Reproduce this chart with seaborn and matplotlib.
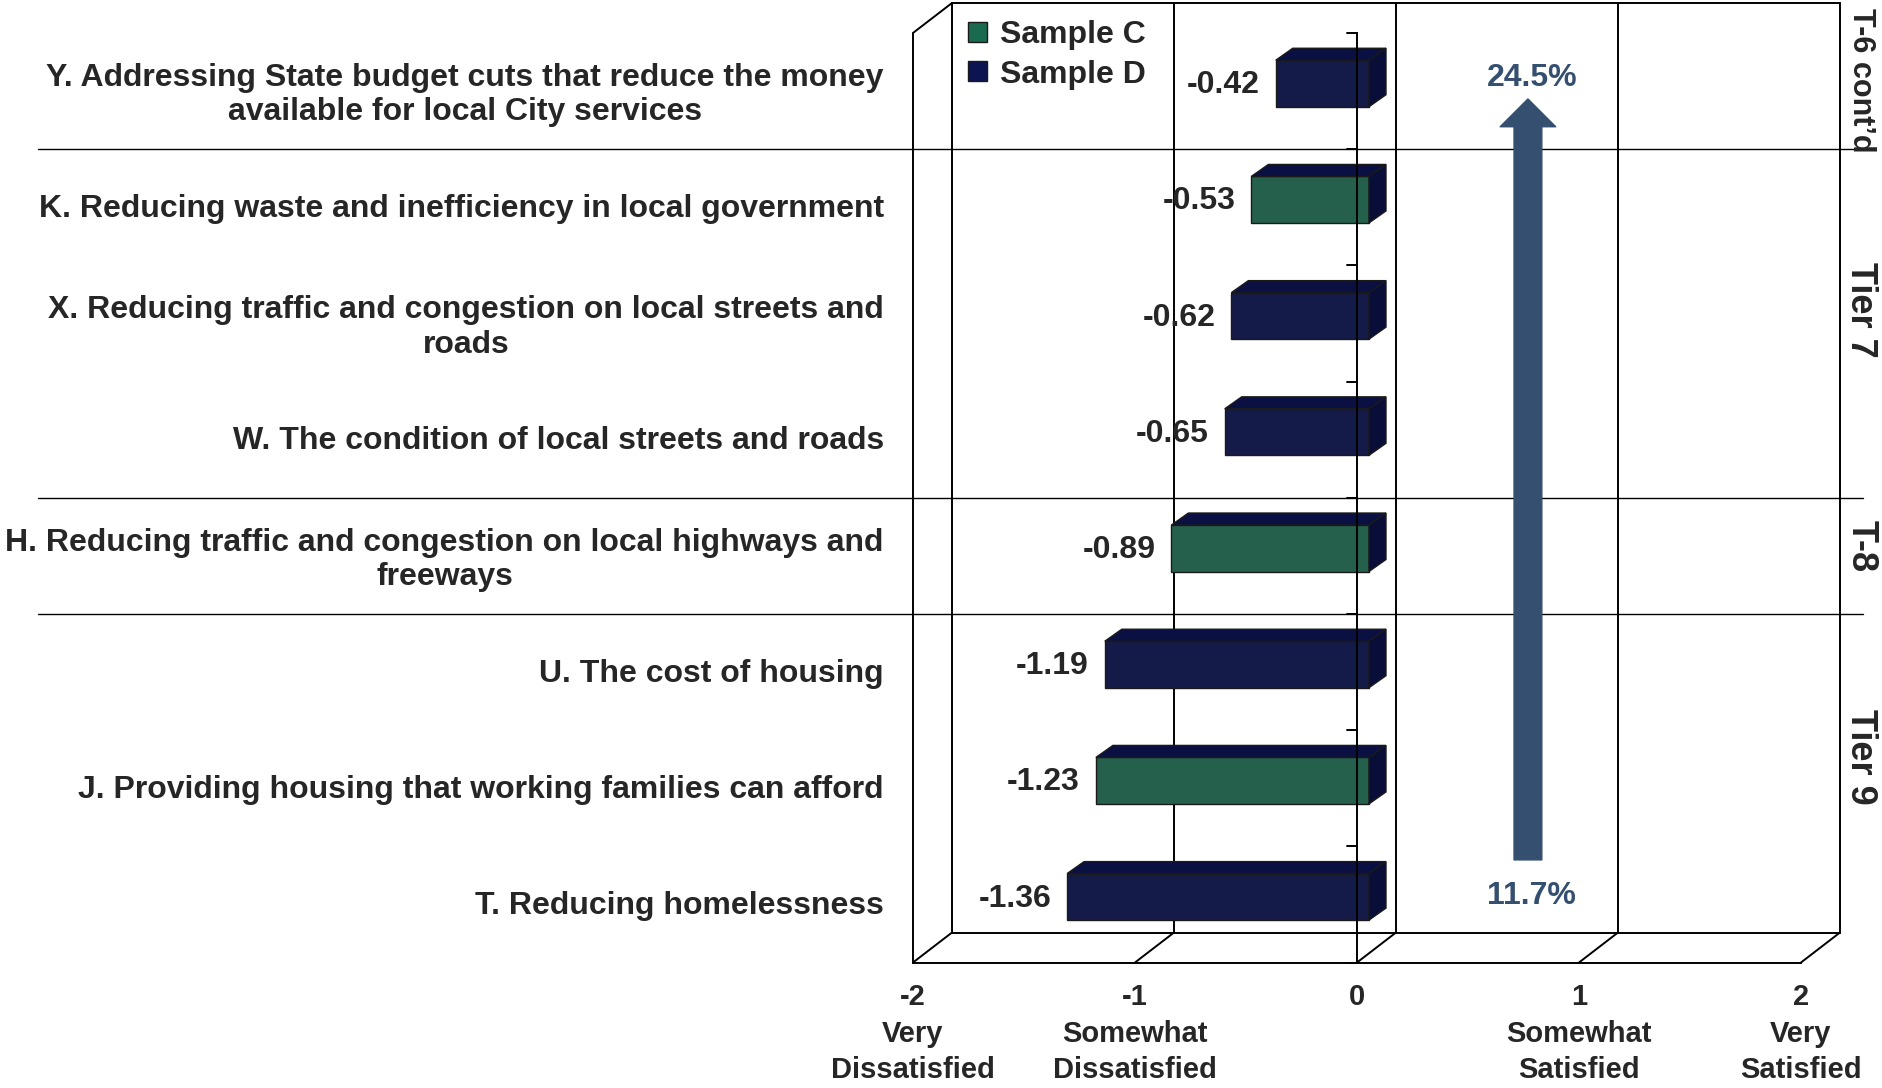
import numpy as np
import pandas as pd
import seaborn as sns
import matplotlib.pyplot as plt
from matplotlib.patches import Polygon, Patch

# Data
categories = [
    "Y. Addressing State budget cuts that reduce the money\navailable for local City services",
    "K. Reducing waste and inefficiency in local government",
    "X. Reducing traffic and congestion on local streets and\nroads",
    "W. The condition of local streets and roads",
    "H. Reducing traffic and congestion on local highways and\nfreeways",
    "U. The cost of housing",
    "J. Providing housing that working families can afford",
    "T. Reducing homelessness",
]
scores = [-0.42, -0.53, -0.62, -0.65, -0.89, -1.19, -1.23, -1.36]
samples = ["Sample D", "Sample C", "Sample D", "Sample D",
           "Sample C", "Sample D", "Sample C", "Sample D"]
tick_values = [-2, -1, 0, 1, 2]
tick_labels = ["-2\nVery\nDissatisfied", "-1\nSomewhat\nDissatisfied", "0",
               "1\nSomewhat\nSatisfied", "2\nVery\nSatisfied"]
tier_names = ["T-6 cont\u2019d", "Tier 7", "T-8", "Tier 9"]
tier_breaks = [1, 4, 5]  # separator lines after these many rows
pct_top = "24.5%"
pct_bottom = "11.7%"

sns.set_style("white")
plt.rcParams["font.family"] = ["Liberation Sans", "DejaVu Sans"]
plt.rcParams["font.weight"] = "bold"

green = "#1A6A4F"
navy = "#0C1452"
palette = {"Sample C": green, "Sample D": navy}
top_col = {green: "#134B38", navy: "#0A1042"}
side_col = {green: "#10432F", navy: "#080E38"}
pct_color = "#354F70"

fig = plt.figure(figsize=(18.83, 10.88), dpi=100)
ax = fig.add_axes([913 / 1883, 125.5 / 1088, 888 / 1883, 962.5 / 1088])

df = pd.DataFrame({"item": categories, "score": scores, "sample": samples})
sns.barplot(data=df, x="score", y="item", hue="sample",
            hue_order=["Sample C", "Sample D"], palette=palette,
            dodge=False, width=0.4, orient="h", errorbar=None,
            edgecolor="#1a1a1a", linewidth=1, legend=False, ax=ax, zorder=3)

# 3D look: front face shifted a bit, plus top and side faces
shift = 0.054
ddx, ddy = 17 / 222, 12 / 116.2
for p in list(ax.patches):
    p.set_x(p.get_x() + shift)
    bb = p.get_bbox()
    x0, x1, y0, y1 = bb.xmin, bb.xmax, bb.ymin, bb.ymax
    fc = green if np.allclose(p.get_facecolor()[:3], plt.matplotlib.colors.to_rgb(green)) else navy
    ax.add_patch(Polygon([(x0, y0), (x0 + ddx, y0 - ddy), (x1 + ddx, y0 - ddy), (x1, y0)],
                         closed=True, fc=top_col[fc], ec="#1a1a1a", lw=1, zorder=3, clip_on=False))
    ax.add_patch(Polygon([(x1, y0), (x1 + ddx, y0 - ddy), (x1 + ddx, y1 - ddy), (x1, y1)],
                         closed=True, fc=side_col[fc], ec="#1a1a1a", lw=1, zorder=3, clip_on=False))

ax.set_xlim(-2, 2)
front_top, front_bot = -0.435, 7.565
ax.set_ylim(front_bot, -0.7186)
ax.set_xlabel("")
ax.set_ylabel("")

# 3D frame
dx, dy = 39 / 222, 0.258
lk = dict(color="black", lw=1.4, clip_on=False, zorder=1)
ax.plot([-2, -2], [front_top, front_bot], **lk)
ax.plot([-2 + dx] * 2, [front_top - dy, front_bot - dy], **lk)
ax.plot([-2, -2 + dx], [front_top, front_top - dy], **lk)
ax.plot([-2 + dx, 2 + dx], [front_top - dy, front_top - dy], **lk)
ax.plot([-2 + dx, 2 + dx], [front_bot - dy, front_bot - dy], **lk)
for k in tick_values:
    ax.plot([k, k + dx], [front_bot, front_bot - dy], **lk)
    if k > -2:
        ax.plot([k + dx] * 2, [front_top - dy, front_bot - dy], **lk)

# value axis at zero
ax.plot([0, 0], [front_top, front_bot], color="black", lw=1.4, zorder=5, clip_on=False)
for j in range(9):
    ax.plot([-0.045, 0], [front_top + j] * 2, color="black", lw=1.4, zorder=5, clip_on=False)

# tier separators
for b in tier_breaks:
    ax.plot([-5.94, 2.28], [front_top + b] * 2, color="black", lw=1.0, zorder=1, clip_on=False)

# data labels
for i, v in enumerate(scores):
    ax.text(v - 0.018, i + 0.015, f"{v:.2f}", ha="right", va="center",
            fontsize=23, fontweight="bold", zorder=6)

# axes styling
for s in ["left", "top", "right"]:
    ax.spines[s].set_visible(False)
ax.spines["bottom"].set_color("black")
ax.spines["bottom"].set_linewidth(1.4)
ax.set_xticks(tick_values, tick_labels)
ax.tick_params(axis="x", length=5, width=1.4, color="black", pad=10, labelsize=21)
for t in ax.get_xticklabels():
    t.set_fontweight("bold")
    t.set_linespacing(1.38)
ax.set_yticks(np.arange(len(categories)) + 0.05, categories)
ax.tick_params(axis="y", length=0, pad=21, labelsize=23)
for t in ax.get_yticklabels():
    t.set_fontweight("bold")
    t.set_multialignment("center")
ax.grid(False)
ax.set_facecolor("none")

# tier labels
tier_y = [(80 - 83.5) / 116.2, (310 - 83.5) / 116.2, (546 - 83.5) / 116.2, (757 - 83.5) / 116.2]
tier_size = [22, 26, 26, 26]
for name, y, fs in zip(tier_names, tier_y, tier_size):
    ax.text(2.27, y, name, rotation=270, ha="center", va="center",
            fontsize=fs, fontweight="bold", clip_on=False)

# change arrow and percentages
ax.annotate("", xy=(0.770, 0.133), xytext=(0.770, 6.682),
            arrowprops=dict(arrowstyle="simple,head_length=2.0,head_width=4.0,tail_width=2.0",
                            color=pct_color, shrinkA=0, shrinkB=0, mutation_scale=10))
ax.text(0.788, -0.05, pct_top, color=pct_color, fontsize=23, fontweight="bold",
        ha="center", va="center")
ax.text(0.788, 6.996, pct_bottom, color=pct_color, fontsize=23, fontweight="bold",
        ha="center", va="center")

# legend
handles = [Patch(facecolor=green, edgecolor="#1a1a1a", lw=1),
           Patch(facecolor=navy, edgecolor="#1a1a1a", lw=1)]
fig.legend(handles, ["Sample C", "Sample D"], loc="upper left",
           bbox_to_anchor=(968 / 1883, 1 - 20 / 1088), frameon=False,
           prop=dict(size=23, weight="bold"), handlelength=0.6, handleheight=0.6,
           handletextpad=0.4, labelspacing=0.3, borderpad=0, borderaxespad=0)

fig.savefig("out.png", dpi=100)
